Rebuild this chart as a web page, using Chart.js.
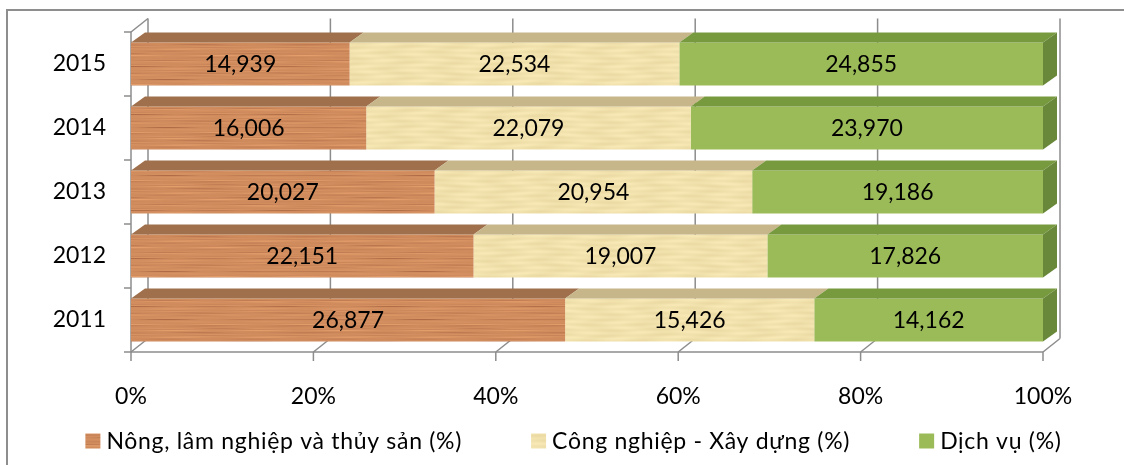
<!DOCTYPE html>
<html>
<head>
<meta charset="utf-8">
<script src="https://cdn.jsdelivr.net/npm/chart.js@4.4.1/dist/chart.umd.min.js"></script>
<style>
  html, body { margin: 0; padding: 0; background: #ffffff; }
  #wrap { width: 1124px; height: 465px; position: relative; }
</style>
</head>
<body>
<div id="wrap"><canvas id="c" width="1124" height="465"></canvas></div>
<script>
// Economic structure by sector, 2011–2015
const years = ['2011', '2012', '2013', '2014', '2015'];
const seriesNames = ['Nông, lâm nghiệp và thủy sản (%)', 'Công nghiệp - Xây dựng (%)', 'Dịch vụ (%)'];
const agriculture = [26.877, 22.151, 20.027, 16.006, 14.939];
const industry    = [15.426, 19.007, 20.954, 22.079, 22.534];
const services    = [14.162, 17.826, 19.186, 23.970, 24.855];
const xTicks      = [0, 20, 40, 60, 80, 100];

const FONT = 'Lato, "Open Sans", sans-serif';
const FONT_SIZE = 23;
const BAR_DEPTH = { dx: 14, dy: -10 };
const WALL_DEPTH = { dx: 17, dy: -13.5 };
const GRID_COLOR = '#8c8c8c';

// 100% stacking: each segment is its share of the year's total
const totals = years.map((_, i) => agriculture[i] + industry[i] + services[i]);
const share = arr => arr.map((v, i) => v / totals[i] * 100);

// Procedural fill textures (wood grain, parchment)
function makeTexture(w, h, shade) {
  const cv = document.createElement('canvas');
  cv.width = w; cv.height = h;
  const c = cv.getContext('2d');
  const img = c.createImageData(w, h);
  for (let y = 0; y < h; y++) {
    for (let x = 0; x < w; x++) {
      const [r, g, b] = shade(x, y, w, h);
      const k = (y * w + x) * 4;
      img.data[k] = r; img.data[k + 1] = g; img.data[k + 2] = b; img.data[k + 3] = 255;
    }
  }
  c.putImageData(img, 0, 0);
  return document.getElementById('c').getContext('2d').createPattern(cv, 'repeat');
}
const TAU = Math.PI * 2;
function woodShade(x, y, w, h) {
  const fy = TAU / h, fx = TAU / w;
  const grain = Math.sin(y * fy * 15) * 0.45 + Math.sin(y * fy * 7 + 1.3) * 0.35 + Math.sin(y * fy * 23 + 0.4) * 0.25;
  const fade = 0.55 + 0.45 * Math.sin(x * fx * 3 + Math.sin(y * fy * 5) * 2);
  // thin dark grain lines that come and go along the board
  const thin = Math.max(0, Math.sin(y * fy * 11 + 0.7) - 0.85) * 6 * Math.max(0, Math.sin(x * fx * 2 + y * fy * 3));
  const k = grain * fade - thin * 0.9;
  return [209 + 22 * k, 140 + 21 * k, 94 + 16 * k];
}
function creamShade(x, y, w, h) {
  const fy = TAU / h, fx = TAU / w;
  const k = Math.sin(x * fx * 5 + Math.sin(y * fy * 3) * 1.5) * 0.5 + Math.sin(y * fy * 9 + Math.sin(x * fx * 2)) * 0.5;
  return [241 + 6 * k, 225 + 7 * k, 172 + 9 * k];
}
const woodFill = makeTexture(256, 48, woodShade);
const creamFill = makeTexture(256, 48, creamShade);

const topColors = ['#a0704c', '#c6b68a', '#789a3e'];
const sideColor = '#69883a';

function line(ctx, x1, y1, x2, y2) {
  ctx.beginPath(); ctx.moveTo(x1, y1); ctx.lineTo(x2, y2); ctx.stroke();
}

// Outer frame, back wall, floor and axis lines of the 3D box, plus bar depth faces and labels
const frame3d = {
  id: 'frame3d',
  beforeDraw(chart) {
    const ctx = chart.ctx;
    ctx.save();
    ctx.strokeStyle = '#8e8e8e';
    ctx.lineWidth = 2;
    ctx.beginPath();
    ctx.moveTo(7, 470); ctx.lineTo(7, 10); ctx.lineTo(1130, 10);
    ctx.stroke();
    ctx.restore();
  },
  beforeDatasetsDraw(chart) {
    const { ctx, chartArea: a, scales: { x, y } } = chart;
    const { dx, dy } = WALL_DEPTH;
    ctx.save();
    ctx.strokeStyle = GRID_COLOR;
    ctx.lineWidth = 1.5;
    xTicks.forEach(v => {
      const px = x.getPixelForValue(v);
      line(ctx, px + dx, a.top + dy, px + dx, a.bottom + dy);
      line(ctx, px, a.bottom, px + dx, a.bottom + dy);
      line(ctx, px, a.bottom, px, a.bottom + 9);
    });
    line(ctx, a.left, a.top, a.left, a.bottom);
    line(ctx, a.left, a.top, a.left + dx, a.top + dy);
    line(ctx, a.left, a.bottom, a.right, a.bottom);
    for (let i = 0; i <= years.length; i++) {
      const py = y.getPixelForValue(i - 0.5);
      line(ctx, a.left - 7, py, a.left, py);
    }
    ctx.restore();
  },
  afterDatasetsDraw(chart) {
    const ctx = chart.ctx;
    const { dx, dy } = BAR_DEPTH;
    const n = chart.data.datasets.length;
    ctx.save();
    chart.data.datasets.forEach((ds, di) => {
      chart.getDatasetMeta(di).data.forEach(el => {
        const p = el.getProps(['x', 'y', 'base', 'height'], true);
        const x0 = Math.min(p.x, p.base), x1 = Math.max(p.x, p.base);
        const top = p.y - p.height / 2, bot = p.y + p.height / 2;
        ctx.fillStyle = topColors[di];
        ctx.beginPath();
        ctx.moveTo(x0, top); ctx.lineTo(x1, top);
        ctx.lineTo(x1 + dx, top + dy); ctx.lineTo(x0 + dx, top + dy);
        ctx.closePath(); ctx.fill();
        if (di === n - 1) {
          ctx.fillStyle = sideColor;
          ctx.beginPath();
          ctx.moveTo(x1, top); ctx.lineTo(x1 + dx, top + dy);
          ctx.lineTo(x1 + dx, bot + dy); ctx.lineTo(x1, bot);
          ctx.closePath(); ctx.fill();
        }
      });
    });
    // value labels on the front faces
    ctx.fillStyle = '#000';
    ctx.font = `${FONT_SIZE}px ${FONT}`;
    ctx.textAlign = 'center';
    ctx.textBaseline = 'middle';
    chart.data.datasets.forEach((ds, di) => {
      chart.getDatasetMeta(di).data.forEach((el, i) => {
        const p = el.getProps(['x', 'y', 'base'], true);
        const label = ds.rawValues[i].toFixed(3).replace('.', ',');
        ctx.fillText(label, (p.x + p.base) / 2, p.y + 1);
      });
    });
    ctx.restore();
  },
  afterDraw(chart) {
    // legend row
    const ctx = chart.ctx;
    ctx.save();
    ctx.font = `${FONT_SIZE}px ${FONT}`;
    ctx.letterSpacing = '0.7px';
    ctx.textBaseline = 'middle';
    ctx.textAlign = 'left';
    const box = 15, gapText = 6, gapItem = 69, cy = 441, centerX = 573.5;
    const widths = chart.data.datasets.map(ds => box + gapText + ctx.measureText(ds.label).width);
    const total = widths.reduce((s, w) => s + w, 0) + gapItem * (widths.length - 1);
    let xPos = centerX - total / 2;
    chart.data.datasets.forEach((ds, i) => {
      ctx.fillStyle = ds.backgroundColor;
      ctx.fillRect(xPos, cy - box / 2, box, box);
      ctx.fillStyle = '#000';
      ctx.fillText(ds.label, xPos + box + gapText, cy + 1);
      xPos += widths[i] + gapItem;
    });
    ctx.restore();
  }
};

const seriesValues = [agriculture, industry, services];
const fills = [woodFill, creamFill, '#9bbb59'];

new Chart(document.getElementById('c'), {
  type: 'bar',
  data: {
    labels: years,
    datasets: seriesNames.map((name, i) => ({
      label: name,
      data: share(seriesValues[i]),
      rawValues: seriesValues[i],
      backgroundColor: fills[i],
      borderWidth: 0,
      categoryPercentage: 1,
      barPercentage: 0.67
    }))
  },
  options: {
    indexAxis: 'y',
    responsive: false,
    animation: false,
    devicePixelRatio: 1,
    layout: { padding: { top: 32, right: 81, left: 0, bottom: 0 } },
    plugins: { legend: { display: false }, tooltip: { enabled: false } },
    scales: {
      x: {
        stacked: true, min: 0, max: 100,
        grid: { display: false }, border: { display: false },
        ticks: {
          stepSize: 20, padding: 23, color: '#000',
          font: { family: FONT, size: FONT_SIZE },
          callback: v => v + '%'
        },
        afterFit: s => { s.height = 113; }
      },
      y: {
        stacked: true, reverse: true,
        grid: { display: false }, border: { display: false },
        ticks: { padding: 17, color: '#000', font: { family: FONT, size: FONT_SIZE } },
        afterFit: s => { s.width = 131; }
      }
    }
  },
  plugins: [frame3d]
});
</script>
</body>
</html>
